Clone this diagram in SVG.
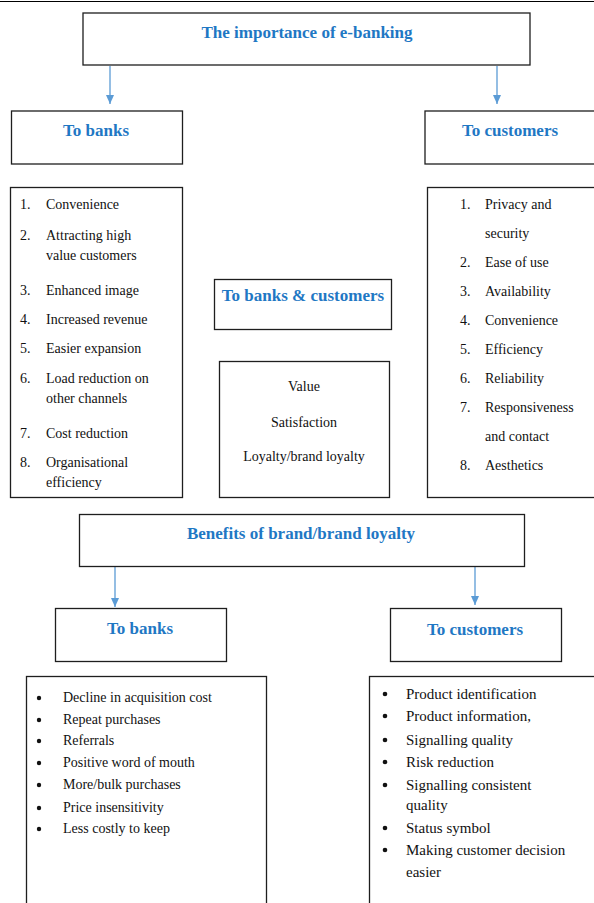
<svg xmlns="http://www.w3.org/2000/svg" width="594" height="903" viewBox="0 0 594 903">
<style>
.box{fill:#fff;stroke:#1e1e1e;stroke-width:1.3}
.h{font-family:"Liberation Serif",serif;font-weight:bold;font-size:17px;fill:#1f78c4;text-anchor:middle}
.t{font-family:"Liberation Serif",serif;font-size:14px;fill:#111}
.tb{font-family:"Liberation Serif",serif;font-size:15px;fill:#111}
.c{text-anchor:middle}
.arr{stroke:#5b9bd5;stroke-width:1.3;fill:none;marker-end:url(#ah)}
</style>
<defs>
<marker id="ah" markerWidth="9" markerHeight="8" refX="9" refY="4" orient="auto" markerUnits="userSpaceOnUse" viewBox="0 0 9 8">
<path d="M0,0 L9,4 L0,8 Z" fill="#5b9bd5"/>
</marker>
</defs>
<rect width="594" height="903" fill="#fff"/>
<line x1="0" y1="1.5" x2="594" y2="1.5" stroke="#000" stroke-width="1.2"/>
<g id="connectors">
<line class="arr" x1="110" y1="66" x2="110" y2="104"/>
<line class="arr" x1="497" y1="66" x2="497" y2="104"/>
<line class="arr" x1="115" y1="567" x2="115" y2="607"/>
<line class="arr" x1="475" y1="567" x2="475" y2="605"/>
</g>
<g id="title">
<rect class="box" x="83" y="13" width="447" height="52"/>
<text class="h" x="307" y="38">The importance of e-banking</text>
</g>
<g id="to-banks">
<rect class="box" x="11.5" y="111" width="171" height="53"/>
<text class="h" x="96" y="136">To banks</text>
</g>
<g id="to-customers">
<rect class="box" x="425" y="111" width="175" height="53"/>
<text class="h" x="510" y="136">To customers</text>
</g>
<g id="banks-list">
<rect class="box" x="10.5" y="187.5" width="172" height="310"/>
<text class="t" x="20" y="209">1.</text><text class="t" x="46" y="209">Convenience</text>
<text class="t" x="20" y="240">2.</text><text class="t" x="46" y="240">Attracting high</text>
<text class="t" x="46" y="260">value customers</text>
<text class="t" x="20" y="295">3.</text><text class="t" x="46" y="295">Enhanced image</text>
<text class="t" x="20" y="324">4.</text><text class="t" x="46" y="324">Increased revenue</text>
<text class="t" x="20" y="353">5.</text><text class="t" x="46" y="353">Easier expansion</text>
<text class="t" x="20" y="383">6.</text><text class="t" x="46" y="383">Load reduction on</text>
<text class="t" x="46" y="403">other channels</text>
<text class="t" x="20" y="438">7.</text><text class="t" x="46" y="438">Cost reduction</text>
<text class="t" x="20" y="467">8.</text><text class="t" x="46" y="467">Organisational</text>
<text class="t" x="46" y="487">efficiency</text>
</g>
<g id="banks-customers">
<rect class="box" x="214.5" y="279.5" width="177" height="50"/>
<text class="h" x="303" y="301">To banks &amp; customers</text>
</g>
<g id="value-box">
<rect class="box" x="219.5" y="361.5" width="170" height="136"/>
<text class="t c" x="304" y="391">Value</text>
<text class="t c" x="304" y="427">Satisfaction</text>
<text class="t c" x="304" y="461">Loyalty/brand loyalty</text>
</g>
<g id="customers-list">
<rect class="box" x="427.5" y="187.5" width="172" height="310"/>
<text class="t" x="460" y="209">1.</text><text class="t" x="485" y="209">Privacy and</text>
<text class="t" x="485" y="238">security</text>
<text class="t" x="460" y="267">2.</text><text class="t" x="485" y="267">Ease of use</text>
<text class="t" x="460" y="296">3.</text><text class="t" x="485" y="296">Availability</text>
<text class="t" x="460" y="325">4.</text><text class="t" x="485" y="325">Convenience</text>
<text class="t" x="460" y="354">5.</text><text class="t" x="485" y="354">Efficiency</text>
<text class="t" x="460" y="383">6.</text><text class="t" x="485" y="383">Reliability</text>
<text class="t" x="460" y="412">7.</text><text class="t" x="485" y="412">Responsiveness</text>
<text class="t" x="485" y="441">and contact</text>
<text class="t" x="460" y="470">8.</text><text class="t" x="485" y="470">Aesthetics</text>
</g>
<g id="benefits">
<rect class="box" x="79.5" y="514.5" width="445" height="52"/>
<text class="h" x="301" y="539">Benefits of brand/brand loyalty</text>
</g>
<g id="to-banks-2">
<rect class="box" x="55.5" y="608.5" width="171" height="53"/>
<text class="h" x="140" y="634">To banks</text>
</g>
<g id="to-customers-2">
<rect class="box" x="390.5" y="608.5" width="171" height="53"/>
<text class="h" x="475" y="635">To customers</text>
</g>
<g id="banks-benefits">
<rect class="box" x="26.5" y="676.5" width="240" height="240"/>
<circle cx="39" cy="698" r="2.2" fill="#111"/><text class="t" x="63" y="702">Decline in acquisition cost</text>
<circle cx="39" cy="720" r="2.2" fill="#111"/><text class="t" x="63" y="724">Repeat purchases</text>
<circle cx="39" cy="741" r="2.2" fill="#111"/><text class="t" x="63" y="745">Referrals</text>
<circle cx="39" cy="763" r="2.2" fill="#111"/><text class="t" x="63" y="767">Positive word of mouth</text>
<circle cx="39" cy="785" r="2.2" fill="#111"/><text class="t" x="63" y="789">More/bulk purchases</text>
<circle cx="39" cy="808" r="2.2" fill="#111"/><text class="t" x="63" y="812">Price insensitivity</text>
<circle cx="39" cy="829" r="2.2" fill="#111"/><text class="t" x="63" y="833">Less costly to keep</text>
</g>
<g id="customers-benefits">
<rect class="box" x="369.5" y="676.5" width="230" height="240"/>
<circle cx="385" cy="694" r="2.3" fill="#111"/><text class="tb" x="406" y="699">Product identification</text>
<circle cx="385" cy="716" r="2.3" fill="#111"/><text class="tb" x="406" y="721">Product information,</text>
<circle cx="385" cy="740" r="2.3" fill="#111"/><text class="tb" x="406" y="745">Signalling quality</text>
<circle cx="385" cy="762" r="2.3" fill="#111"/><text class="tb" x="406" y="767">Risk reduction</text>
<circle cx="385" cy="785" r="2.3" fill="#111"/><text class="tb" x="406" y="790">Signalling consistent</text>
<text class="tb" x="406" y="810">quality</text>
<circle cx="385" cy="828" r="2.3" fill="#111"/><text class="tb" x="406" y="833">Status symbol</text>
<circle cx="385" cy="850" r="2.3" fill="#111"/><text class="tb" x="406" y="855">Making customer decision</text>
<text class="tb" x="406" y="877">easier</text>
</g>
</svg>
